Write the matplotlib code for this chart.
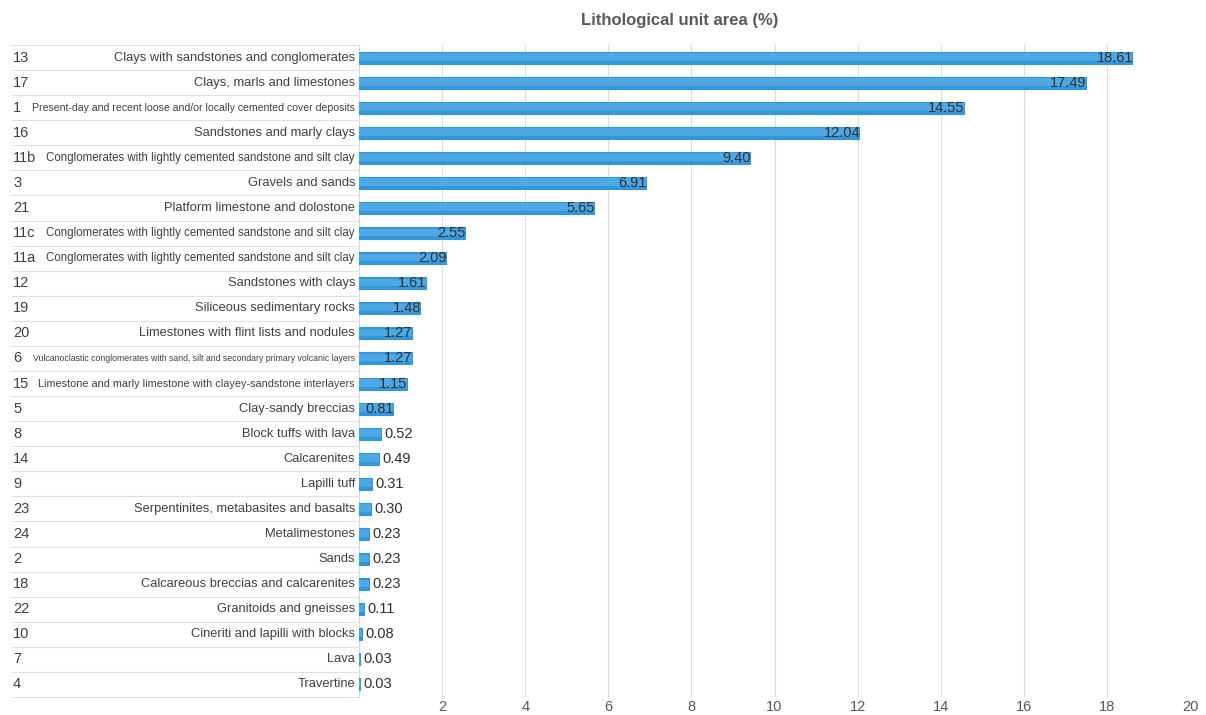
import matplotlib.pyplot as plt

plt.rcParams["font.family"] = ["Liberation Sans", "DejaVu Sans"]

codes = ["13", "17", "1", "16", "11b", "3", "21", "11c", "11a", "12", "19", "20", "6",
         "15", "5", "8", "14", "9", "23", "24", "2", "18", "22", "10", "7", "4"]
names = [
    "Clays with sandstones and conglomerates",
    "Clays, marls and limestones",
    "Present-day and recent loose and/or locally cemented cover deposits",
    "Sandstones and marly clays",
    "Conglomerates with lightly cemented sandstone and silt clay",
    "Gravels and sands",
    "Platform limestone and dolostone",
    "Conglomerates with lightly cemented sandstone and silt clay",
    "Conglomerates with lightly cemented sandstone and silt clay",
    "Sandstones with clays",
    "Siliceous sedimentary rocks",
    "Limestones with flint lists and nodules",
    "Vulcanoclastic conglomerates with sand, silt and secondary primary volcanic layers",
    "Limestone and marly limestone with clayey-sandstone interlayers",
    "Clay-sandy breccias",
    "Block tuffs with lava",
    "Calcarenites",
    "Lapilli tuff",
    "Serpentinites, metabasites and basalts",
    "Metalimestones",
    "Sands",
    "Calcareous breccias and calcarenites",
    "Granitoids and gneisses",
    "Cineriti and lapilli with blocks",
    "Lava",
    "Travertine",
]
values = [18.61, 17.49, 14.55, 12.04, 9.40, 6.91, 5.65, 2.55, 2.09, 1.61, 1.48, 1.27, 1.27,
          1.15, 0.81, 0.52, 0.49, 0.31, 0.30, 0.23, 0.23, 0.23, 0.11, 0.08, 0.03, 0.03]
xticks = [2, 4, 6, 8, 10, 12, 14, 16, 18, 20]

W, H = 1206, 715
fig = plt.figure(figsize=(W / 100, H / 100), dpi=100)
x0, x1, y0, y1 = 359, 1190, 45, 697
ax = fig.add_axes([x0 / W, 1 - y1 / H, (x1 - x0) / W, (y1 - y0) / H])

n = len(values)
ypos = list(range(n))
# base bar with a slightly lighter band on top to mimic the gradient fill
ax.barh(ypos, values, height=0.48, color="#3196da", edgecolor="#3196da", linewidth=0.8, zorder=3)
ax.barh([y - 0.03 for y in ypos], values, height=0.3, color="#4ea8e4", linewidth=0, zorder=3)

ax.set_xlim(0, 20)
ax.set_ylim(n - 0.5, -0.5)
ax.set_xticks(xticks)
ax.set_xticklabels([str(t) for t in xticks], fontsize=10.5, color="#595959")
ax.tick_params(axis="x", length=0, pad=2)
ax.set_yticks([])
ax.grid(axis="x", color="#dcdcdc", linewidth=0.8, zorder=0)
for side in ["top", "right", "bottom"]:
    ax.spines[side].set_visible(False)
ax.spines["left"].set_color("#d9d9d9")
ax.spines["left"].set_linewidth(0.8)

# value labels: inside the bar end when they fit, otherwise just outside
for y, v in zip(ypos, values):
    if v > 0.6:
        ax.text(v + 0.02, y, f"{v:.2f}", ha="right", va="center", fontsize=10.5, color="#303030", zorder=4)
    else:
        ax.text(v + 0.08, y, f"{v:.2f}", ha="left", va="center", fontsize=10.5, color="#303030", zorder=4)

# table on the left: codes, names and row separators
trans = ax.get_yaxis_transform()
left_ax = (12 - x0) / (x1 - x0)
code_ax = (13 - x0) / (x1 - x0)
name_ax = (355 - x0) / (x1 - x0)
for i in range(n + 1):
    ax.plot([left_ax, 0], [i - 0.5, i - 0.5], transform=trans, color="#e0e0e0",
            linewidth=0.8, clip_on=False, zorder=1)

fig.canvas.draw()
renderer = fig.canvas.get_renderer()
for y, c, name in zip(ypos, codes, names):
    ct = ax.text(code_ax, y, c, transform=trans, ha="left", va="center", fontsize=10.5,
                 color="#404040", clip_on=False)
    nt = ax.text(name_ax, y, name, transform=trans, ha="right", va="center", fontsize=9.3,
                 color="#404040", clip_on=False)
    c_right = ct.get_window_extent(renderer).x1
    avail = 355 - c_right - 8
    size = 9.3
    while nt.get_window_extent(renderer).width > avail and size > 6:
        size -= 0.1
        nt.set_fontsize(size)

fig.text(680 / W, 1 - 20 / H, "Lithological unit area (%)", ha="center", va="center",
         fontsize=12, fontweight="bold", color="#595959")

fig.savefig("out.png", dpi=100, facecolor="white")
